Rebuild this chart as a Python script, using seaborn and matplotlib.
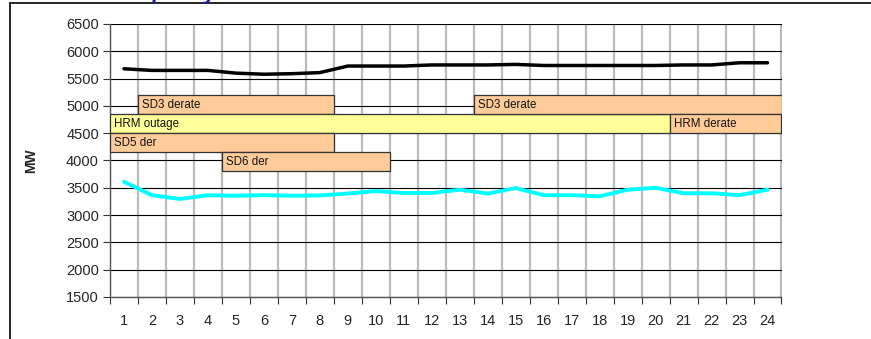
import matplotlib
matplotlib.use("Agg")
import matplotlib.pyplot as plt
from matplotlib.lines import Line2D
from matplotlib.ticker import FixedLocator
import numpy as np
import pandas as pd
import seaborn as sns

# hourly values (MW)
hours = list(range(1, 25))
capacity = [5680, 5650, 5650, 5650, 5600, 5580, 5590, 5610, 5730, 5730, 5730, 5750,
            5750, 5750, 5760, 5740, 5740, 5740, 5740, 5740, 5750, 5750, 5790, 5790]
load = [3610, 3365, 3295, 3365, 3355, 3365, 3355, 3360, 3395, 3440, 3405, 3405,
        3465, 3395, 3495, 3365, 3365, 3345, 3465, 3500, 3400, 3400, 3365, 3465]

# outage / derate blocks: first hour, last hour, MW band
block_names = ["SD3 derate", "HRM outage", "SD5 der", "SD6 der", "SD3 derate", "HRM derate"]
block_first = [2, 1, 1, 5, 14, 21]
block_last = [8, 20, 8, 10, 24, 24]
block_low = [4850, 4500, 4150, 3800, 4850, 4500]
block_high = [5200, 4850, 4500, 4150, 5200, 4850]
block_kind = ["derate", "outage", "derate", "derate", "derate", "derate"]

kind_colors = {"derate": "#FFCC99", "outage": "#FFFF99"}

sns.set_style("white")
plt.rcParams["font.family"] = ["Liberation Sans", "DejaVu Sans"]

fig = plt.figure(figsize=(8.71, 3.39), dpi=100)
ax = fig.add_axes([110 / 871, 1 - 297 / 339, 671.5 / 871, 273 / 339])

# blocks
for name, a, b, lo, hi, kind in zip(block_names, block_first, block_last,
                                     block_low, block_high, block_kind):
    ax.barh(lo, b - a + 1, left=a - 0.5, height=hi - lo, align="edge",
            color=kind_colors[kind], edgecolor="#333333", linewidth=0.9, zorder=3)
    ax.annotate(name, (a - 0.5, (lo + hi) / 2), xytext=(3, 0),
                textcoords="offset points", ha="left", va="center",
                fontsize=8.3, color="#111111", zorder=4)

df = pd.DataFrame({"hour": hours, "capacity": capacity, "load": load})
sns.lineplot(data=df, x="hour", y="capacity", ax=ax, color="black",
             linewidth=2.5, zorder=5)
sns.lineplot(data=df, x="hour", y="load", ax=ax, color="#00FFFF",
             linewidth=2.8, zorder=5)

ax.set_xlim(0.5, 24.5)
ax.set_ylim(1500, 6500)
ax.set_yticks(np.arange(1500, 6501, 500))
ax.set_xticks(hours)
ax.xaxis.set_minor_locator(FixedLocator(np.arange(0.5, 25, 1)))

ax.grid(False)
ax.grid(axis="y", which="major", color="black", linewidth=0.8, zorder=0)
ax.grid(axis="x", which="minor", color="#BBBBBB", linewidth=1.6, zorder=0)

ax.tick_params(axis="x", which="major", length=0, pad=12, labelsize=10.5)
ax.tick_params(axis="x", which="minor", length=5, width=0.8, color="#333333",
               direction="out", bottom=True)
ax.tick_params(axis="y", which="major", length=5, width=0.8, color="#333333",
               direction="out", left=True, labelsize=10.5, pad=3)

for side in ["top", "right"]:
    ax.spines[side].set_visible(False)
for side in ["left", "bottom"]:
    ax.spines[side].set_color("#555555")
    ax.spines[side].set_linewidth(1.0)

ax.set_xlabel("")
ax.set_ylabel("MW", fontsize=10, fontweight="bold", labelpad=20)

# outer chart frame (top and left edges)
fig.add_artist(Line2D([10 / 871, 1], [1 - 3 / 339, 1 - 3 / 339],
                      color="black", linewidth=1.2, transform=fig.transFigure))
fig.add_artist(Line2D([10 / 871, 10 / 871], [0, 1 - 3 / 339],
                      color="black", linewidth=1.2, transform=fig.transFigure))

# title, cut off at the top of the image as in the source
fig.text(125 / 871, 1 + 1.5 / 339, "Capacity", fontsize=16, fontstyle="italic",
         fontweight="bold", color="#1F1FA0", ha="left", va="baseline")

fig.savefig("out.png", dpi=100)
